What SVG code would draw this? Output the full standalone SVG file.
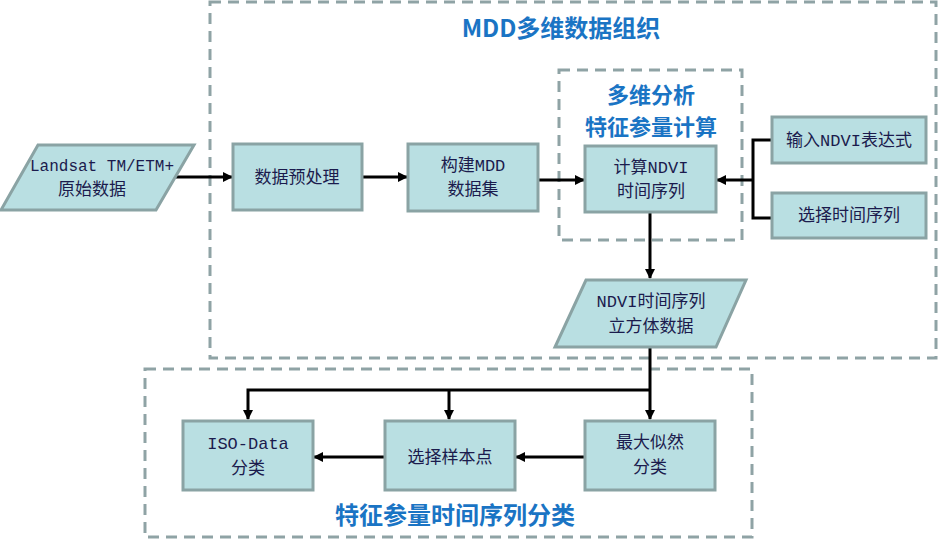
<svg xmlns="http://www.w3.org/2000/svg" width="939" height="543" viewBox="0 0 939 543">
<defs>
<marker id="ah" markerWidth="10" markerHeight="10" refX="9" refY="5" orient="auto" markerUnits="userSpaceOnUse" viewBox="0 0 10 10"><path d="M0,0 L10,5 L0,10 z" fill="#000"/></marker>
<style>
.box{fill:#B9DFE2;stroke:#8AA3A4;stroke-width:3}
.grp{fill:none;stroke:#8FA3A5;stroke-width:3;stroke-dasharray:11,7}
.t{font-family:"Liberation Mono","Noto Sans CJK SC",monospace;font-size:17px;fill:#1B1B4D;text-anchor:middle}
.h{font-family:"Noto Sans CJK SC","Liberation Sans",sans-serif;font-size:24px;font-weight:bold;fill:#1A74C4;text-anchor:middle}
.c{fill:none;stroke:#000;stroke-width:3}
</style>
</defs>
<rect class="grp" x="210" y="2" width="726" height="356"/>
<rect class="grp" x="559" y="70" width="183" height="170"/>
<rect class="grp" x="145" y="369" width="607" height="168"/>
<text class="h" x="561" y="37">MDD多维数据组织</text>
<text class="h" x="651" y="103" style="font-size:22px">多维分析</text>
<text class="h" x="651" y="135" style="font-size:22px">特征参量计算</text>
<text class="h" x="455" y="524">特征参量时间序列分类</text>
<g id="connectors">
<path class="c" d="M176,177 H232" marker-end="url(#ah)"/>
<path class="c" d="M362,177 H407" marker-end="url(#ah)"/>
<path class="c" d="M538,180 H584" marker-end="url(#ah)"/>
<path class="c" d="M772,140 H753 V218 H772"/>
<path class="c" d="M753,180 H717" marker-end="url(#ah)"/>
<path class="c" d="M650,213 V278" marker-end="url(#ah)"/>
<path class="c" d="M650,347 V419" marker-end="url(#ah)"/>
<path class="c" d="M650,390 H248 V419" marker-end="url(#ah)"/>
<path class="c" d="M449,390 V419" marker-end="url(#ah)"/>
<path class="c" d="M585,457 H516" marker-end="url(#ah)"/>
<path class="c" d="M385,457 H314" marker-end="url(#ah)"/>
</g>
<g id="landsat"><polygon class="box" points="38,145 194,145 156,210 1,210"/><text class="t" x="102" y="171" style="font-size:16px">Landsat TM/ETM+</text><text class="t" x="92" y="195">原始数据</text></g>
<g id="preprocess"><rect class="box" x="233" y="144" width="129" height="66"/><text class="t" x="297" y="183">数据预处理</text></g>
<g id="buildmdd"><rect class="box" x="408" y="144" width="130" height="67"/><text class="t" x="473" y="171">构建MDD</text><text class="t" x="473" y="195">数据集</text></g>
<g id="calcndvi"><rect class="box" x="585" y="146" width="131" height="66"/><text class="t" x="651" y="173">计算NDVI</text><text class="t" x="651" y="197">时间序列</text></g>
<g id="inputexpr"><rect class="box" x="772" y="117" width="154" height="46"/><text class="t" x="849" y="146">输入NDVI表达式</text></g>
<g id="selectts"><rect class="box" x="772" y="193" width="154" height="45"/><text class="t" x="849" y="221">选择时间序列</text></g>
<g id="cube"><polygon class="box" points="586,280 746,280 716,347 555,347"/><text class="t" x="651" y="307">NDVI时间序列</text><text class="t" x="651" y="332">立方体数据</text></g>
<g id="isodata"><rect class="box" x="183" y="421" width="130" height="69"/><text class="t" x="248" y="449">ISO-Data</text><text class="t" x="248" y="474">分类</text></g>
<g id="sample"><rect class="box" x="385" y="421" width="130" height="69"/><text class="t" x="450" y="463">选择样本点</text></g>
<g id="ml"><rect class="box" x="585" y="421" width="130" height="69"/><text class="t" x="650" y="448">最大似然</text><text class="t" x="650" y="473">分类</text></g>
</svg>
